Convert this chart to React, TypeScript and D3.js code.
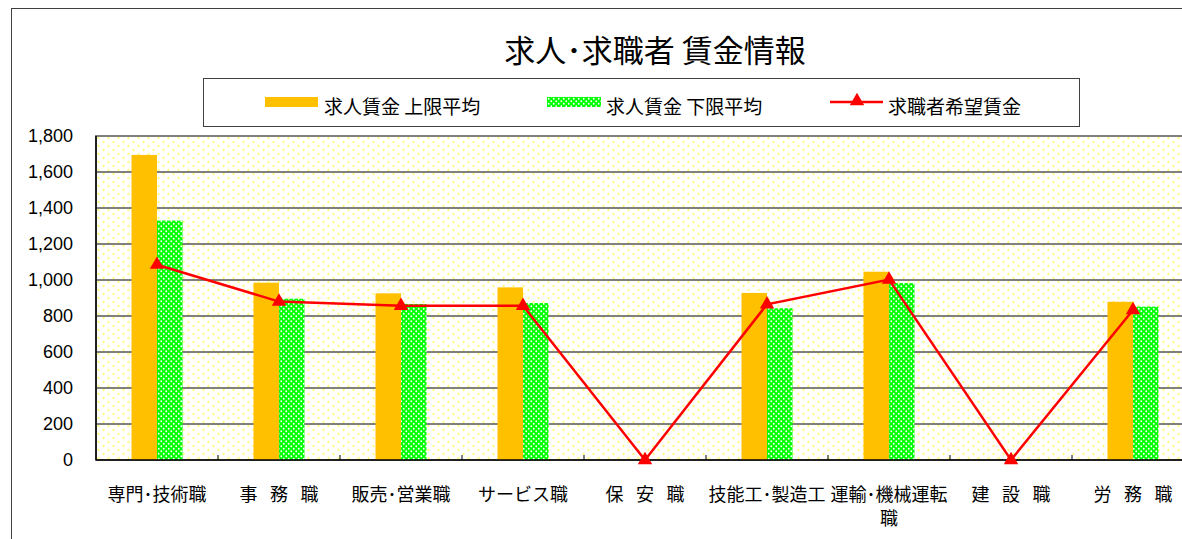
import React from "react";
import * as d3 from "d3";

const categories = [
  "専門･技術職",
  "事　務　職",
  "販売･営業職",
  "サービス職",
  "保　安　職",
  "技能工･製造工",
  "運輸･機械運転職",
  "建　設　職",
  "労　務　職",
];
const upperAvg = [1695, 985, 926, 959, 0, 928, 1046, 0, 879];
const lowerAvg = [1330, 896, 867, 872, 0, 843, 983, 0, 852];
const desired = [1085, 880, 857, 857, 0, 865, 1002, 0, 833];
const yTicks = [0, 200, 400, 600, 800, 1000, 1200, 1400, 1600, 1800];
const seriesNames = ["求人賃金 上限平均", "求人賃金 下限平均", "求職者希望賃金"];
const title = "求人･求職者 賃金情報";

const W = 1182;
const H = 539;
const left = 96;
const top = 136;
const bottom = 460;
const bandW = 122;
const right = left + bandW * categories.length;

const jp = "'Noto Sans CJK JP', 'Noto Sans', sans-serif";
const num = "'Liberation Sans', Arial, sans-serif";

function splitLabel(s: string): string[] {
  if (s === "運輸･機械運転職") return ["運輸･機械運転", "職"];
  return [s.replace(/　/g, "\u2002\u2009")];
}

export default function App() {
  const x = d3.scaleBand<string>().domain(categories).range([left, right]).padding(0);
  const y = d3.scaleLinear().domain([0, 1800]).range([bottom, top]);
  const barW = 25.5;
  const cx = (c: string) => (x(c) as number) + x.bandwidth() / 2;

  const line = d3
    .line<number>()
    .x((_, i) => cx(categories[i]))
    .y((v) => y(v));

  const tri = d3.symbol().type(d3.symbolTriangle).size(90)();

  return (
    <svg
      width={W}
      height={H}
      style={{ position: "absolute", left: 0, top: 0, background: "#fff" }}
    >
      <defs>
        <pattern id="bgDots" width="10" height="8" patternUnits="userSpaceOnUse" x={left} y={top}>
          <rect width="10" height="8" fill="#ffffff" />
          <circle cx="2.5" cy="2" r="1.2" fill="#ffff88" />
          <circle cx="7.5" cy="6" r="1.2" fill="#ffff88" />
        </pattern>
        <pattern id="greenDots" width="5" height="5" patternUnits="userSpaceOnUse">
          <rect width="5" height="5" fill="#00ff00" />
          <circle cx="1.25" cy="1.25" r="0.9" fill="#ffffff" />
          <circle cx="3.75" cy="3.75" r="0.9" fill="#ffffff" />
        </pattern>
      </defs>

      {/* chart frame */}
      <rect x={11.5} y={8.5} width={W + 20} height={H + 20} fill="#fff" stroke="#404040" strokeWidth={1} />

      {/* title */}
      <text
        x={655}
        y={48}
        textAnchor="middle"
        dominantBaseline="central"
        fontFamily={jp}
        fontSize={31}
        fill="#000"
      >
        {title}
      </text>

      {/* legend */}
      <rect x={203.5} y={78.5} width={876} height={48} fill="#fff" stroke="#404040" strokeWidth={1} />
      <rect x={265} y={97} width={53} height={10} fill="#ffc000" />
      <text x={324} y={105} dominantBaseline="central" fontFamily={jp} fontSize={19}>
        {seriesNames[0]}
      </text>
      <rect x={547} y={97} width={54} height={10} fill="url(#greenDots)" />
      <text x={606} y={105} dominantBaseline="central" fontFamily={jp} fontSize={19}>
        {seriesNames[1]}
      </text>
      <line x1={830} x2={883} y1={102} y2={102} stroke="#ff0000" strokeWidth={2.5} />
      <path d={tri as string} transform="translate(857,101)" fill="#ff0000" />
      <text x={888} y={105} dominantBaseline="central" fontFamily={jp} fontSize={19}>
        {seriesNames[2]}
      </text>

      {/* plot background */}
      <rect x={left} y={top} width={right - left} height={bottom - top} fill="url(#bgDots)" />

      {/* gridlines */}
      {yTicks
        .filter((t) => t > 0 && t < 1800)
        .map((t) => (
          <line key={t} x1={left} x2={right} y1={y(t)} y2={y(t)} stroke="#000" strokeWidth={1} />
        ))}

      {/* plot border */}
      <rect x={left} y={top} width={right - left} height={bottom - top} fill="none" stroke="#808080" strokeWidth={2} />

      {/* bars */}
      {categories.map((c, i) => (
        <g key={c}>
          {upperAvg[i] > 0 && (
            <rect x={cx(c) - barW} y={y(upperAvg[i])} width={barW} height={bottom - y(upperAvg[i])} fill="#ffc000" />
          )}
          {lowerAvg[i] > 0 && (
            <rect x={cx(c)} y={y(lowerAvg[i])} width={barW} height={bottom - y(lowerAvg[i])} fill="url(#greenDots)" />
          )}
        </g>
      ))}

      {/* axes */}
      <line x1={left} x2={left} y1={top} y2={bottom} stroke="#000" strokeWidth={1.5} />
      <line x1={left} x2={right} y1={bottom} y2={bottom} stroke="#000" strokeWidth={1.5} />
      {categories.map((c, i) =>
        i === 0 ? null : (
          <line key={"t" + c} x1={x(c) as number} x2={x(c) as number} y1={bottom} y2={bottom - 5} stroke="#000" strokeWidth={1} />
        )
      )}

      {/* line series */}
      <path d={line(desired) as string} fill="none" stroke="#ff0000" strokeWidth={2.5} />
      {desired.map((v, i) => (
        <path key={"m" + i} d={tri as string} transform={`translate(${cx(categories[i])},${y(v)})`} fill="#ff0000" />
      ))}

      {/* y labels */}
      {yTicks.map((t) => (
        <text
          key={"y" + t}
          x={73}
          y={y(t)}
          textAnchor="end"
          dominantBaseline="central"
          fontFamily={num}
          fontSize={18}
          fill="#000"
        >
          {d3.format(",")(t)}
        </text>
      ))}

      {/* x labels */}
      {categories.map((c) =>
        splitLabel(c).map((ln, j) => (
          <text
            key={c + j}
            x={cx(c)}
            y={493 + j * 24}
            textAnchor="middle"
            dominantBaseline="central"
            fontFamily={jp}
            fontSize={18}
            fill="#000"
            style={{ whiteSpace: "pre" }}
          >
            {ln}
          </text>
        ))
      )}
    </svg>
  );
}
